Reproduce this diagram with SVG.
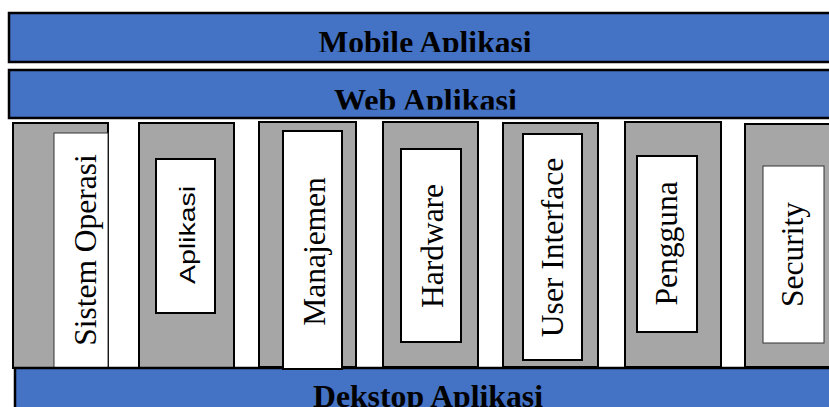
<svg xmlns="http://www.w3.org/2000/svg" width="829" height="407" viewBox="0 0 829 407">
<style>
.bar{fill:#4472C4;stroke:#000;stroke-width:2.5}
.col{fill:#A6A6A6;stroke:#000;stroke-width:2}
.in{fill:#fff;stroke:#000;stroke-width:2}
.inthin{fill:#fff;stroke:#333;stroke-width:1}
.bt{font-family:"Liberation Serif","Times New Roman",serif;font-weight:bold;font-size:32px;fill:#000;text-anchor:middle}
.vt{font-family:"Liberation Serif","Times New Roman",serif;font-size:31.5px;fill:#000;text-anchor:middle}
.vs{font-family:"Liberation Sans",Arial,sans-serif;font-size:22px;fill:#000;text-anchor:middle}
</style>
<defs>
<clipPath id="cm"><rect x="0" y="0" width="829" height="52"/></clipPath>
<clipPath id="cw"><rect x="0" y="60" width="829" height="49.5"/></clipPath>
</defs>
<rect width="829" height="407" fill="#fff"/>
<g id="mobile">
<rect class="bar" x="9" y="13" width="830" height="49"/>
<text class="bt" x="425" y="53" textLength="213" lengthAdjust="spacingAndGlyphs" clip-path="url(#cm)">Mobile Aplikasi</text>
</g>
<g id="web">
<rect class="bar" x="9" y="70" width="830" height="48"/>
<text class="bt" x="425.5" y="110.5" textLength="183" lengthAdjust="spacingAndGlyphs" clip-path="url(#cw)">Web Aplikasi</text>
</g>
<g id="col-sistem">
<rect class="col" x="13" y="123" width="95" height="245"/>
<rect class="inthin" x="54" y="133" width="54" height="235"/>
<text class="vt" transform="translate(96 250) rotate(-90)" x="0" y="0">Sistem Operasi</text>
</g>
<g id="col-aplikasi">
<rect class="col" x="139" y="123" width="95" height="245"/>
<rect class="in" x="156" y="159" width="59" height="154"/>
<text class="vs" transform="translate(195 235) rotate(-90)" x="0" y="0" textLength="98" lengthAdjust="spacingAndGlyphs">Aplikasi</text>
</g>
<g id="col-hardware">
<rect class="col" x="383" y="122" width="95" height="245"/>
<rect class="in" x="401" y="149" width="60" height="193"/>
<text class="vt" transform="translate(443 246) rotate(-90)" x="0" y="0">Hardware</text>
</g>
<g id="col-ui">
<rect class="col" x="503" y="123" width="95" height="244"/>
<rect class="in" x="523" y="134" width="59" height="226"/>
<text class="vt" transform="translate(563 247.5) rotate(-90)" x="0" y="0">User Interface</text>
</g>
<g id="col-pengguna">
<rect class="col" x="625" y="122" width="96" height="245"/>
<rect class="in" x="637" y="156" width="60" height="176"/>
<text class="vt" transform="translate(677 243.5) rotate(-90)" x="0" y="0">Pengguna</text>
</g>
<g id="col-security">
<rect class="col" x="745" y="124" width="100" height="243"/>
<rect class="inthin" x="763" y="166" width="61" height="177"/>
<text class="vt" transform="translate(803 254.5) rotate(-90)" x="0" y="0">Security</text>
</g>
<g id="col-manajemen-outer">
<rect class="col" x="259" y="122" width="97" height="245"/>
</g>
<g id="desktop">
<rect class="bar" x="15" y="368" width="830" height="50"/>
<text class="bt" x="428" y="407" textLength="230" lengthAdjust="spacingAndGlyphs">Dekstop Aplikasi</text>
</g>
<g id="col-manajemen">
<rect class="in" x="283" y="131" width="59" height="238"/>
<text class="vt" transform="translate(325 251.5) rotate(-90)" x="0" y="0">Manajemen</text>
</g>
<g id="connectors"></g>
</svg>
